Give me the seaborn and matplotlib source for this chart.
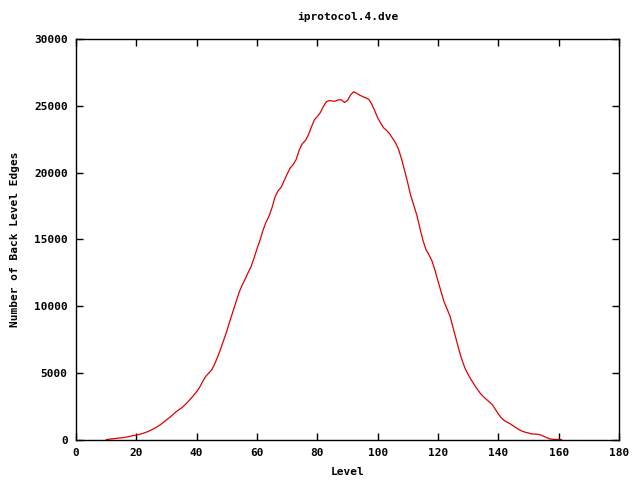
import matplotlib
matplotlib.use("Agg")
import matplotlib.pyplot as plt
import seaborn as sns
import pandas as pd

levels = list(range(10, 162))
edges = [
    30, 60, 90, 110, 140, 160, 190, 230, 280, 330,            # 10-19
    370, 420, 480, 560, 650, 750, 870, 1000, 1150, 1320,      # 20-29
    1500, 1680, 1870, 2080, 2250, 2400, 2600, 2830, 3080, 3340,  # 30-39
    3620, 3950, 4380, 4760, 5000, 5250, 5700, 6250, 6850, 7500,  # 40-49
    8150, 8900, 9600, 10300, 11000, 11550, 12000, 12500, 12950, 13600,  # 50-59
    14300, 14950, 15700, 16300, 16750, 17400, 18200, 18650, 18900, 19400,  # 60-69
    19900, 20350, 20600, 21000, 21700, 22150, 22400, 22800, 23400, 23950,  # 70-79
    24200, 24500, 24950, 25300, 25400, 25350, 25350, 25450, 25450, 25250,  # 80-89
    25400, 25800, 26050, 25950, 25800, 25700, 25600, 25500, 25150, 24650,  # 90-99
    24100, 23700, 23350, 23150, 22900, 22550, 22200, 21700, 20950, 20100,  # 100-109
    19200, 18250, 17550, 16800, 15850, 14950, 14250, 13850, 13400, 12700,  # 110-119
    11900, 11100, 10350, 9800, 9250, 8400, 7550, 6700, 5950, 5350,  # 120-129
    4900, 4500, 4150, 3800, 3500, 3250, 3050, 2850, 2650, 2300,  # 130-139
    1950, 1650, 1450, 1320, 1200, 1050, 900, 760, 650, 580,  # 140-149
    520, 460, 440, 430, 380, 280, 180, 90, 50, 40,  # 150-159
    40, 30,  # 160-161
]
x_ticks = [0, 20, 40, 60, 80, 100, 120, 140, 160, 180]
y_ticks = [0, 5000, 10000, 15000, 20000, 25000, 30000]

title = "iprotocol.4.dve"
xlabel = "Level"
ylabel = "Number of Back Level Edges"

sns.set_style("white")
plt.rcParams["font.family"] = ["DejaVu Sans Mono"]
plt.rcParams["font.weight"] = "bold"
plt.rcParams["text.color"] = "black"
plt.rcParams["axes.labelcolor"] = "black"

df = pd.DataFrame({"Level": levels, "Edges": edges})

fig = plt.figure(figsize=(6.4, 4.8), dpi=100)
ax = fig.add_axes([76 / 640, 1 - 440 / 480, (619 - 76) / 640, (440 - 39) / 480])
sns.lineplot(data=df, x="Level", y="Edges", ax=ax, color="#e00000", linewidth=0.9)

ax.set_xlim(0, 180)
ax.set_ylim(0, 30000)
ax.set_xticks(x_ticks)
ax.set_yticks(y_ticks)
ax.set_xticklabels([str(t) for t in x_ticks], fontsize=8, fontweight="bold", color="black")
ax.set_yticklabels([str(t) for t in y_ticks], fontsize=8, fontweight="bold", color="black")
ax.tick_params(direction="in", length=5, width=1, top=True, right=True,
               bottom=True, left=True, pad=6, colors="black")
for s in ax.spines.values():
    s.set_visible(True)
    s.set_color("black")
    s.set_linewidth(1)

ax.set_title(title, fontsize=8, fontweight="bold", pad=14, color="black")
ax.set_xlabel(xlabel, fontsize=8, fontweight="bold", labelpad=6, color="black")
ax.set_ylabel(ylabel, fontsize=8, fontweight="bold", labelpad=10, color="black")

fig.savefig("out.png", dpi=100)
